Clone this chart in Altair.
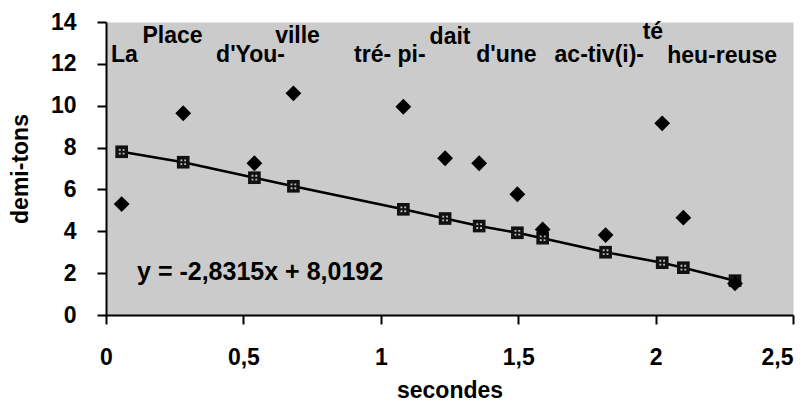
import altair as alt
import pandas as pd

# time (s) of each syllable
t = [0.057, 0.281, 0.540, 0.682, 1.082, 1.234, 1.358, 1.497, 1.589, 1.818, 2.024, 2.101, 2.289]
# measured pitch (demi-tons) - diamonds
pitch = [5.30, 9.64, 7.25, 10.59, 9.95, 7.49, 7.25, 5.77, 4.09, 3.82, 9.16, 4.65, 1.51]
# fitted line points - squares
fit = [7.80, 7.30, 6.56, 6.15, 5.05, 4.61, 4.25, 3.93, 3.67, 3.00, 2.50, 2.26, 1.64]

# syllable labels at the top of the plot
words = ["La", "Place", "d'You-", "ville", "tré- pi-", "dait", "d'une", "ac-tiv(i)-", "té", "heu-reuse"]
word_x = [0.067, 0.242, 0.526, 0.697, 1.033, 1.252, 1.457, 1.795, 1.99, 2.242]
word_y = [12.09, 13.0, 12.09, 13.0, 12.09, 12.95, 12.09, 12.09, 13.2, 12.05]

eq_text = ["y = -2,8315x + 8,0192"]
eq_x = [0.113]
eq_y = [1.67]

x_ticks = [0, 0.5, 1, 1.5, 2, 2.5]
y_ticks = [0, 2, 4, 6, 8, 10, 12, 14]

FONT = "Liberation Sans"

df = pd.DataFrame({"t": t, "pitch": pitch, "fit": fit})
wdf = pd.DataFrame({"w": words, "x": word_x, "y": word_y})
edf = pd.DataFrame({"w": eq_text, "x": eq_x, "y": eq_y})

xscale = alt.Scale(domain=[0, 2.5], nice=False, zero=False)
yscale = alt.Scale(domain=[0, 14], nice=False, zero=False)

xaxis = alt.Axis(
    values=x_ticks, title="secondes", grid=False,
    labelExpr="replace(format(datum.value, '~g'), '.', ',')",
    labelAlign={"expr": "datum.value >= 2.5 ? 'right' : 'center'"},
    tickSize=9, tickWidth=2, tickColor="black", domainColor="black", domainWidth=2,
    labelPadding=22, labelFontSize=23, labelFont=FONT, labelFontWeight="bold", labelColor="black",
    titleFontSize=23, titleFont=FONT, titleFontWeight="bold", titleColor="black", titlePadding=10,
    labelFlush=False,
)
yaxis = alt.Axis(
    values=y_ticks, title="demi-tons", grid=False,
    tickSize=9, tickWidth=2, tickColor="black", domainColor="black", domainWidth=2,
    labelPadding=21, labelFontSize=23, labelFont=FONT, labelFontWeight="bold", labelColor="black",
    titleFontSize=23, titleFont=FONT, titleFontWeight="bold", titleColor="black", titlePadding=18,
)

base = alt.Chart(df)

line = base.mark_line(color="black", strokeWidth=2.5).encode(
    x=alt.X("t:Q", scale=xscale, axis=xaxis),
    y=alt.Y("fit:Q", scale=yscale, axis=yaxis),
)
squares = base.mark_point(shape="square", filled=True, size=160, color="#111111", opacity=1).encode(
    x=alt.X("t:Q", scale=xscale), y=alt.Y("fit:Q", scale=yscale)
)
specks = base.mark_point(
    shape="M-0.45,-0.45h0.3v0.3h-0.3z M0.15,-0.45h0.3v0.3h-0.3z M-0.45,0.15h0.3v0.3h-0.3z M0.15,0.15h0.3v0.3h-0.3z",
    filled=True, size=160, color="#bbbbbb", opacity=1,
).encode(x=alt.X("t:Q", scale=xscale), y=alt.Y("fit:Q", scale=yscale))
diamonds = base.mark_point(shape="diamond", filled=True, size=250, color="black", opacity=1).encode(
    x=alt.X("t:Q", scale=xscale), y=alt.Y("pitch:Q", scale=yscale)
)
labels = alt.Chart(wdf).mark_text(
    font=FONT, fontSize=23, fontWeight="bold", color="black", align="center", baseline="alphabetic"
).encode(x=alt.X("x:Q", scale=xscale), y=alt.Y("y:Q", scale=yscale), text="w:N")
eq = alt.Chart(edf).mark_text(
    font=FONT, fontSize=25, fontWeight="bold", color="black", align="left", baseline="alphabetic"
).encode(x=alt.X("x:Q", scale=xscale), y=alt.Y("y:Q", scale=yscale), text="w:N")

chart = (
    alt.layer(line, squares, specks, diamonds, labels, eq)
    .properties(
        width=687, height=293,
        autosize=alt.AutoSizeParams(type="none"),
        padding={"left": 98, "top": 14, "right": 7, "bottom": 88},
        background="white",
    )
    .configure_view(fill="#cbcbcb", stroke="transparent")
)

chart.save("out.html", embed_options={"renderer": "svg", "actions": False})
